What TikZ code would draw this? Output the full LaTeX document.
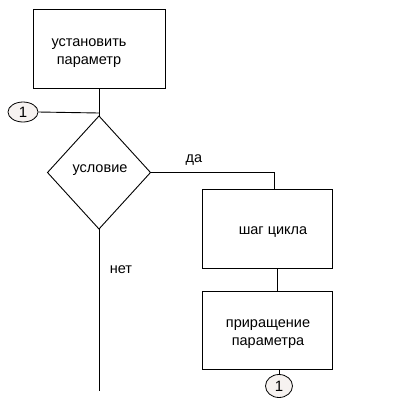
\documentclass[tikz,border=0pt]{standalone}
\usepackage{fontspec}
\setmainfont{Liberation Sans}
\usetikzlibrary{shapes.geometric}
\begin{document}
\begin{tikzpicture}[x=1pt,y=-1pt,
  blk/.style={draw=black,line width=0.9pt,minimum width=#1,inner sep=0pt,outer sep=0pt},
  lbl/.style={font=\fontsize{14.5}{18}\selectfont,align=center},
  conn/.style={draw=black,line width=0.9pt},
  circ/.style={draw=black,fill={rgb,255:red,246;green,242;blue,240},ellipse,line width=0.8pt,inner sep=0pt,font=\fontsize{15}{16}\selectfont}]
\useasboundingbox (0,0) rectangle (400,400);
% boxes
\node[blk=132pt,minimum height=79pt] (b1) at (99,48.5) {};
\node[lbl] (t1) at (89,53) {установить\\параметр};
\node[draw=black,line width=0.9pt,diamond,minimum width=103pt,minimum height=113pt,inner sep=0pt,outer sep=0pt,aspect=0.91] (d) at (99,172.5) {};
\node[lbl] (td) at (100,170) {условие};
\node[blk=130pt,minimum height=79pt] (b2) at (267,228.5) {};
\node[lbl] (t2) at (273,232) {шаг цикла};
\node[blk=130pt,minimum height=78pt] (b3) at (267,330) {};
\node[lbl] (t3) at (268,334) {приращение\\параметра};
% circles
\node[circ,minimum width=30pt,minimum height=20pt] (c1) at (23,112) {1};
\node[circ,minimum width=27pt,minimum height=23pt] (c2) at (279,386) {1};
% coordinates
\coordinate (j1) at (99,113);
\coordinate (r1) at (274,174);
\coordinate (e) at (99,391);
% connectors
\draw[conn] (b1.south -| j1) -- (d.north);
\draw[conn] (c1.east) -- (j1);
\draw[conn] (d.east) -- (d.east -| r1) -- (r1 |- b2.north);
\draw[conn] (b2.south -| 277,0) -- (b3.north -| 277,0);
\draw[conn] (d.south) -- (e);
\draw[conn,line width=0.6pt] (b3.south -| c2) -- (c2.north);
% labels
\node[lbl] (yes) at (194,160) {да};
\node[lbl] (no) at (121,270) {нет};
\end{tikzpicture}
\end{document}
